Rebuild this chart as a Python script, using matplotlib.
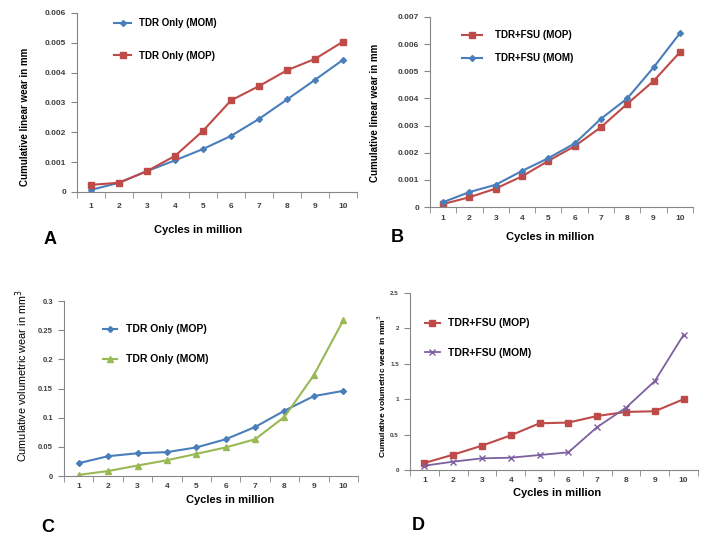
import matplotlib
matplotlib.use('Agg')
import matplotlib.pyplot as plt
from matplotlib.ticker import MultipleLocator, FuncFormatter
import numpy as np

plt.rcParams['font.family'] = ['Liberation Sans', 'DejaVu Sans']

cycles = [1, 2, 3, 4, 5, 6, 7, 8, 9, 10]

# panel A - linear wear, TDR only
a_mom = [0.00007, 0.00031, 0.00070, 0.00106, 0.00144, 0.00188, 0.00245, 0.00310, 0.00376, 0.00443]
a_mop = [0.00024, 0.00031, 0.00070, 0.00121, 0.00205, 0.00307, 0.00355, 0.00408, 0.00446, 0.00504]
# panel B - linear wear, TDR+FSU
b_mop = [0.00011, 0.00036, 0.00068, 0.00113, 0.00170, 0.00224, 0.00294, 0.00380, 0.00464, 0.00570]
b_mom = [0.00018, 0.00055, 0.00082, 0.00133, 0.00180, 0.00234, 0.00325, 0.00400, 0.00514, 0.00640]
# panel C - volumetric wear, TDR only
c_mop = [0.022, 0.034, 0.039, 0.041, 0.049, 0.063, 0.084, 0.112, 0.137, 0.146]
c_mom = [0.002, 0.0085, 0.018, 0.027, 0.038, 0.049, 0.063, 0.1015, 0.173, 0.267]
# panel D - volumetric wear, TDR+FSU
d_mop = [0.099, 0.217, 0.344, 0.49, 0.66, 0.67, 0.763, 0.82, 0.83, 1.0]
d_mom = [0.061, 0.118, 0.165, 0.174, 0.212, 0.25, 0.607, 0.88, 1.257, 1.91]

blue = '#4A7EBB'
red = '#BE4B48'
green = '#98B954'
purple = '#7D60A0'
grey = '#868686'

fig = plt.figure(figsize=(7.09, 5.36), dpi=100)

def setup(ax, ymax, ystep, ylab, tickpad, xlab_xy, ylab_xy, ysize=7, ybold=True, yticksize=6):
    ax.set_xlim(0.5, 10.5)
    ax.set_ylim(0, ymax)
    ax.yaxis.set_major_locator(MultipleLocator(ystep))
    ax.yaxis.set_major_formatter(FuncFormatter(lambda v, p: ('%g' % round(v, 6))))
    ax.set_xticks(cycles)
    ax.set_xticks(np.arange(0.5, 11, 1), minor=True)
    ax.tick_params(axis='x', which='major', length=0, pad=tickpad, labelsize=6)
    ax.tick_params(axis='x', which='minor', length=4, color=grey)
    ax.tick_params(axis='y', length=4, color=grey, labelsize=yticksize, pad=4)
    for lab in ax.get_xticklabels() + ax.get_yticklabels():
        lab.set_fontweight('bold')
        lab.set_color('#404040')
    for s in ['top', 'right']:
        ax.spines[s].set_visible(False)
    for s in ['left', 'bottom']:
        ax.spines[s].set_color(grey)
        ax.spines[s].set_linewidth(0.8)
    ax.set_xlabel('Cycles in million', fontsize=8, fontweight='bold')
    ax.xaxis.set_label_coords(*xlab_xy)
    ax.set_ylabel(ylab, fontsize=ysize, fontweight='bold' if ybold else 'normal')
    ax.yaxis.set_label_coords(*ylab_xy)

# A
axA = fig.add_axes([0.1086, 0.6418, 0.395, 0.334])
axA.plot(cycles, a_mom, color=blue, marker='D', markersize=3, lw=1.5, label='TDR Only (MOM)')
axA.plot(cycles, a_mop, color=red, marker='s', markersize=5, lw=1.5, label='TDR Only (MOP)')
setup(axA, 0.006, 0.001, 'Cumulative linear wear in mm', 8, (0.432, -0.187), (-0.168, 0.42))
axA.legend(loc='upper left', bbox_to_anchor=(0.1, 1.02), frameon=False,
           labelspacing=2.3, handlelength=1.8, prop={'weight': 'bold', 'size': 7})

# B
axB = fig.add_axes([0.6065, 0.6138, 0.3709, 0.3545])
axB.plot(cycles, b_mop, color=red, marker='s', markersize=5, lw=1.5, label='TDR+FSU (MOP)')
axB.plot(cycles, b_mom, color=blue, marker='D', markersize=3, lw=1.5, label='TDR+FSU (MOM)')
setup(axB, 0.007, 0.001, 'Cumulative linear wear in mm', 6, (0.456, -0.134), (-0.19, 0.495))
axB.legend(loc='upper left', bbox_to_anchor=(0.09, 0.975), frameon=False,
           labelspacing=1.3, handlelength=2.0, handletextpad=1.3, prop={'weight': 'bold', 'size': 7})

# C
axC = fig.add_axes([0.0903, 0.1119, 0.4146, 0.3265])
axC.plot(cycles, c_mop, color=blue, marker='D', markersize=3, lw=1.5, label='TDR Only (MOP)')
axC.plot(cycles, c_mom, color=green, marker='^', markersize=4, lw=1.5, label='TDR Only (MOM)')
setup(axC, 0.3, 0.05, 'Cumulative volumetric wear in mm$^3$', 5, (0.565, -0.106), (-0.116, 0.571),
      ysize=7.8, ybold=False, yticksize=5.5)
axC.legend(loc='upper left', bbox_to_anchor=(0.1, 0.92), frameon=False,
           labelspacing=1.9, handlelength=1.4, prop={'weight': 'bold', 'size': 7.5})

# D
axD = fig.add_axes([0.5783, 0.1231, 0.4062, 0.3303])
axD.plot(cycles, d_mop, color=red, marker='s', markersize=4, lw=1.5, label='TDR+FSU (MOP)')
axD.plot(cycles, d_mom, color=purple, marker='x', markersize=4, lw=1.3, label='TDR+FSU (MOM)')
setup(axD, 2.5, 0.5, 'Cumulative volumetric wear in mm$^3$', 5, (0.51, -0.099), (-0.075, 0.475),
      ysize=6, yticksize=4.5)
axD.legend(loc='upper left', bbox_to_anchor=(0.02, 0.91), frameon=False,
           labelspacing=1.9, handlelength=1.4, prop={'weight': 'bold', 'size': 7.5})

for lett, x, y in [('A', 50, 240), ('B', 397, 238), ('C', 48, 527), ('D', 418, 525)]:
    fig.text(x / 709, 1 - y / 536, lett, fontsize=13, fontweight='bold', ha='center', va='center')

fig.savefig('out.png', dpi=100)
